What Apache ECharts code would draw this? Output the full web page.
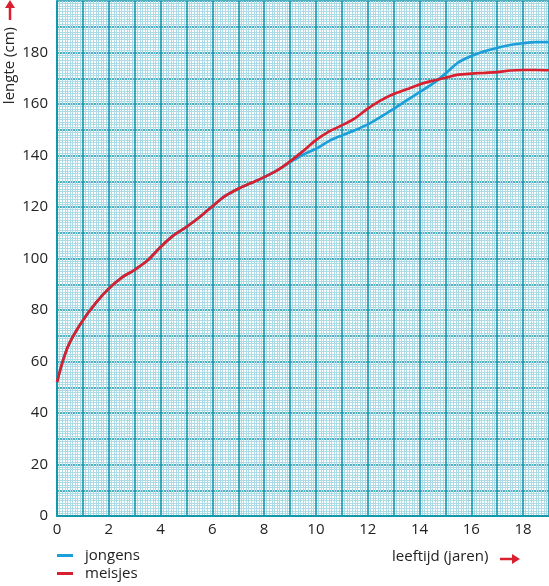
<!DOCTYPE html>
<html>
<head>
<meta charset="utf-8">
<script src="https://cdn.jsdelivr.net/npm/echarts@6/dist/echarts.min.js"></script>
<style>
    html, body { margin: 0; padding: 0; background: #fff; }
    #chart { width: 549px; height: 586px; }
</style>
</head>
<body>
<div id="chart"></div>
<script>
var leeftijd = [0, 0.25, 0.5, 1, 1.5, 2, 2.5, 3, 3.5, 4, 4.5, 5, 5.5, 6, 6.5, 7, 7.5, 8, 8.5,
    9, 9.5, 10, 10.5, 11, 11.5, 12, 12.5, 13, 13.5, 14, 14.5, 15, 15.5, 16, 16.5, 17, 17.5, 18, 18.5, 19];
var jongens = [52, 61, 67.5, 76, 82.8, 88.3, 92.6, 95.6, 99.3, 104.5, 109, 112.3, 116, 120.3, 124.3, 127.1, 129.3, 131.6, 134.2,
    137.4, 140.3, 142.6, 145.6, 147.8, 149.8, 152.1, 155, 158.1, 161.4, 164.6, 167.8, 171.8, 176.2, 178.6, 180.5, 181.8, 182.9, 183.6, 184, 184];
var meisjes = [52, 61, 67.5, 76, 82.8, 88.3, 92.6, 95.6, 99.3, 104.5, 109, 112.3, 116, 120.3, 124.3, 127.1, 129.3, 131.6, 134.2,
    137.7, 141.7, 146, 149.3, 151.7, 154.4, 158.2, 161.4, 163.9, 165.7, 167.6, 169, 170.2, 171.4, 171.8, 172.1, 172.4, 173, 173.2, 173.2, 173.1];
var xLabels = [0, 2, 4, 6, 8, 10, 12, 14, 16, 18];
var yLabels = [0, 20, 40, 60, 80, 100, 120, 140, 160, 180];

var font = '"Open Sans", "DejaVu Sans", sans-serif';
var teal = '#1496ab';
var light = '#acdbe6';
var rood = '#d9202f';
var blauw = '#1c9fd9';

function pairs(xs, ys) {
    var out = [];
    for (var i = 0; i < xs.length; i++) {
        out.push([xs[i], ys[i]]);
    }
    return out;
}

var myChart = echarts.init(document.getElementById('chart'));

option = {
    backgroundColor: '#fff',
    animation: false,
    textStyle: { fontFamily: font },
    grid: {
        left: 57,
        right: 0,
        top: 1,
        bottom: 70
    },
    legend: {
        orient: 'vertical',
        left: 57,
        top: 548,
        padding: 0,
        itemGap: 3,
        itemWidth: 16,
        itemHeight: 3,
        icon: 'rect',
        textStyle: { fontFamily: font, fontSize: 15, color: '#222', padding: [0, 0, 0, 7] },
        data: ['jongens', 'meisjes']
    },
    xAxis: {
        type: 'value',
        min: 0,
        max: 19,
        interval: 1,
        axisLine: { show: true, onZero: false, lineStyle: { color: teal, width: 2 } },
        axisTick: { show: false },
        axisLabel: {
            margin: 6,
            fontSize: 15,
            fontFamily: font,
            color: '#222',
            showMaxLabel: false,
            formatter: function (v) {
                return xLabels.indexOf(v) >= 0 ? String(v) : '';
            }
        },
        splitLine: { show: true, lineStyle: { color: teal, width: 1.6 } },
        minorTick: { show: false, splitNumber: 10 },
        minorSplitLine: { show: true, lineStyle: { color: light, width: 1 } }
    },
    yAxis: {
        type: 'value',
        min: 0,
        max: 200,
        interval: 10,
        axisLine: { show: true, onZero: false, lineStyle: { color: teal, width: 2 } },
        axisTick: { show: false },
        axisLabel: {
            margin: 9,
            fontSize: 15,
            fontFamily: font,
            color: '#222',
            showMaxLabel: false,
            formatter: function (v) {
                return yLabels.indexOf(v) >= 0 ? String(v) : '';
            }
        },
        splitLine: { show: true, lineStyle: { color: teal, width: 1.6 } },
        minorTick: { show: false, splitNumber: 10 },
        minorSplitLine: { show: true, lineStyle: { color: light, width: 1 } }
    },
    graphic: [
        {
            type: 'text',
            left: 2,
            top: 27,
            rotation: Math.PI / 2,
            style: { text: 'lengte (cm)', fontFamily: font, fontSize: 15, fill: '#222' }
        },
        {
            type: 'line',
            shape: { x1: 10, y1: 20, x2: 10, y2: 6 },
            style: { stroke: rood, lineWidth: 2.5 }
        },
        {
            type: 'polygon',
            shape: { points: [[5, 8], [15, 8], [10, 0]] },
            style: { fill: rood }
        },
        {
            type: 'text',
            left: 392,
            top: 549,
            style: { text: 'leeftijd (jaren)', fontFamily: font, fontSize: 15, fill: '#222' }
        },
        {
            type: 'line',
            shape: { x1: 500, y1: 559, x2: 514, y2: 559 },
            style: { stroke: rood, lineWidth: 2.5 }
        },
        {
            type: 'polygon',
            shape: { points: [[512, 554], [512, 564], [520, 559]] },
            style: { fill: rood }
        }
    ],
    series: [
        {
            name: 'jongens',
            type: 'line',
            data: pairs(leeftijd, jongens),
            smooth: 0.3,
            showSymbol: false,
            symbol: 'none',
            itemStyle: { color: blauw },
            lineStyle: { color: blauw, width: 2.7 }
        },
        {
            name: 'meisjes',
            type: 'line',
            data: pairs(leeftijd, meisjes),
            smooth: 0.3,
            showSymbol: false,
            symbol: 'none',
            itemStyle: { color: rood },
            lineStyle: { color: rood, width: 2.7 }
        }
    ]
};

myChart.setOption(option);
</script>
</body>
</html>
